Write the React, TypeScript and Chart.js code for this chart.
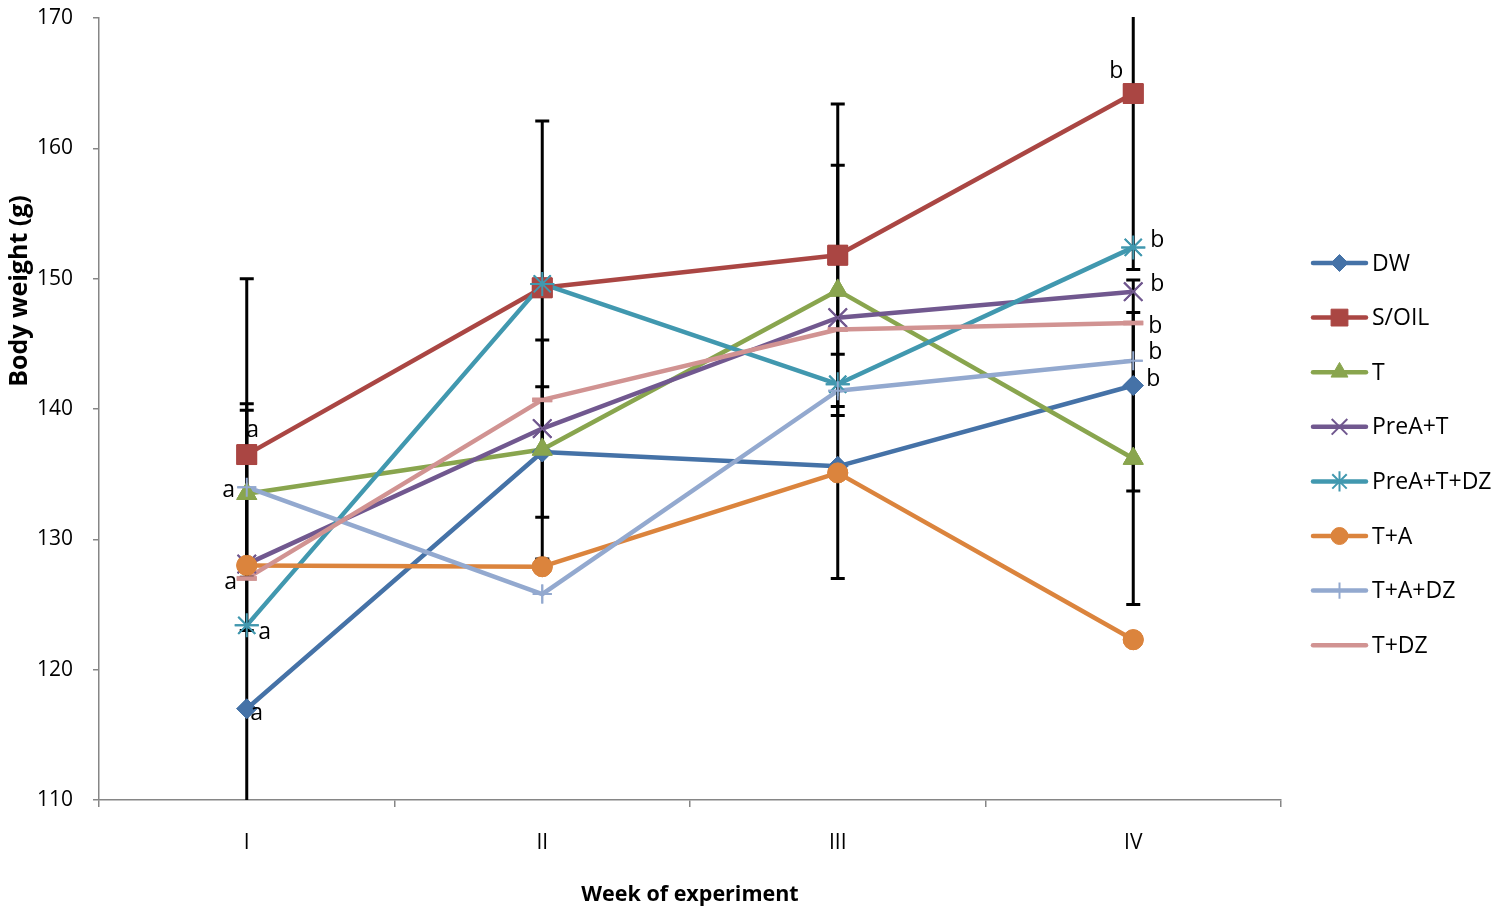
import { useEffect, useRef } from 'react';
import { Chart, registerables } from 'chart.js';
import { drawPoint } from 'chart.js/helpers';

Chart.register(...registerables);

// Weeks on the x axis
const weeks = ['I', 'II', 'III', 'IV'];

// Mean body weight (g) per group and week
const dw = [117.0, 136.7, 135.6, 141.8];
const sOil = [136.5, 149.3, 151.8, 164.2];
const tOnly = [133.5, 136.9, 149.1, 136.2];
const preAT = [128.1, 138.5, 147.0, 149.0];
const preATDZ = [123.4, 149.6, 141.9, 152.4];
const tA = [128.0, 127.9, 135.1, 122.3];
const tADZ = [134.0, 125.8, 141.4, 143.7];
const tDZ = [127.0, 140.7, 146.1, 146.6];

// Standard deviations shown as whiskers (only these groups carry them)
const dwSD = [23.4, 5.0, 8.6, 8.1];
const sOilSD = [13.5, 12.8, 11.6, 13.5];
const tOnlySD = [6.4, 8.4, 9.6, 11.2];

// Significance letters at week I and week IV, one per group ('' = none)
const lettersWeekI = ['a', 'a', 'a', '', 'a', '', '', 'a'];
const lettersWeekIV = ['b', 'b', '', 'b', 'b', '', 'b', 'b'];

// Y axis range
const yMin = 110;
const yMax = 170;
const yStep = 10;

const FONT = "'Open Sans', 'Noto Sans', sans-serif";

type SeriesStyle = {
  label: string;
  data: number[];
  sd: number[] | null;
  color: string;
  pointStyle: string;
  radius: number;
  pointBorderWidth: number;
};

const series: SeriesStyle[] = [
  { label: 'DW', data: dw, sd: dwSD, color: '#4572A7', pointStyle: 'rectRot', radius: 10, pointBorderWidth: 1 },
  { label: 'S/OIL', data: sOil, sd: sOilSD, color: '#AA4643', pointStyle: 'rect', radius: 14, pointBorderWidth: 1 },
  { label: 'T', data: tOnly, sd: tOnlySD, color: '#89A54E', pointStyle: 'triangle', radius: 11.5, pointBorderWidth: 1 },
  { label: 'PreA+T', data: preAT, sd: null, color: '#71588F', pointStyle: 'crossRot', radius: 13, pointBorderWidth: 2 },
  { label: 'PreA+T+DZ', data: preATDZ, sd: null, color: '#4198AF', pointStyle: 'star', radius: 12, pointBorderWidth: 2 },
  { label: 'T+A', data: tA, sd: null, color: '#DB843D', pointStyle: 'circle', radius: 10, pointBorderWidth: 1 },
  { label: 'T+A+DZ', data: tADZ, sd: null, color: '#93A9CF', pointStyle: 'cross', radius: 9.5, pointBorderWidth: 2 },
  { label: 'T+DZ', data: tDZ, sd: null, color: '#D19392', pointStyle: 'line', radius: 10, pointBorderWidth: 4.5 },
];

// Pixel offsets of the significance letters from their point
const letterOffsetsI: [number, number][] = [
  [10, 5], [6, -24], [-18, -3], [0, 0], [18, 7], [0, 0], [0, 0], [-16, 4],
];
const letterOffsetsIV: [number, number][] = [
  [20, -6], [-17, -22], [0, 0], [24, -7], [24, -7], [0, 0], [22, -8], [22, 3],
];

// Whiskers, drawn over the lines, then the markers are painted again on top
const errorBarPlugin = {
  id: 'errorBars',
  afterDatasetsDraw(chart: any) {
    const { ctx, chartArea, scales } = chart;
    const xs = scales.x;
    const ys = scales.y;
    ctx.save();
    ctx.beginPath();
    ctx.rect(chartArea.left, chartArea.top - 1, chartArea.right - chartArea.left, chartArea.bottom - chartArea.top + 1);
    ctx.clip();
    ctx.strokeStyle = '#000000';
    ctx.lineWidth = 3;
    ctx.lineCap = 'butt';
    series.forEach((s) => {
      if (!s.sd) return;
      s.data.forEach((v, i) => {
        const sd = s.sd![i];
        const x = xs.getPixelForValue(i);
        const yHi = ys.getPixelForValue(v + sd);
        const yLo = ys.getPixelForValue(v - sd);
        ctx.beginPath();
        ctx.moveTo(x, yHi);
        ctx.lineTo(x, yLo);
        ctx.moveTo(x - 7, yHi);
        ctx.lineTo(x + 7, yHi);
        ctx.moveTo(x - 7, yLo);
        ctx.lineTo(x + 7, yLo);
        ctx.stroke();
      });
    });
    ctx.restore();
    for (let d = 0; d < chart.data.datasets.length; d++) {
      const meta = chart.getDatasetMeta(d);
      meta.data.forEach((el: any) => el.draw(ctx, chartArea));
    }
  },
};

// Significance letters, the rotated y-axis title and the legend
const annotationPlugin = {
  id: 'annotations',
  afterDraw(chart: any) {
    const { ctx, scales } = chart;
    const xs = scales.x;
    const ys = scales.y;
    ctx.save();
    ctx.fillStyle = '#000000';
    ctx.font = `23px ${FONT}`;
    ctx.textAlign = 'center';
    ctx.textBaseline = 'middle';
    series.forEach((s, k) => {
      const li = lettersWeekI[k];
      if (li) {
        const [dx, dy] = letterOffsetsI[k];
        ctx.fillText(li, xs.getPixelForValue(0) + dx, ys.getPixelForValue(s.data[0]) + dy);
      }
      const l4 = lettersWeekIV[k];
      if (l4) {
        const [dx, dy] = letterOffsetsIV[k];
        ctx.fillText(l4, xs.getPixelForValue(3) + dx, ys.getPixelForValue(s.data[3]) + dy);
      }
    });

    // y-axis title
    ctx.save();
    ctx.translate(20, 291);
    ctx.rotate(-Math.PI / 2);
    ctx.font = `bold 25px ${FONT}`;
    ctx.fillText('Body weight (g)', 0, 0);
    ctx.restore();

    // legend
    const x0 = 1313;
    const x1 = 1366;
    series.forEach((s, k) => {
      const y = 263 + k * 54.6;
      ctx.strokeStyle = s.color;
      ctx.lineWidth = 4.5;
      ctx.lineCap = 'round';
      ctx.beginPath();
      ctx.moveTo(x0, y);
      ctx.lineTo(x1, y);
      ctx.stroke();
      ctx.fillStyle = s.color;
      ctx.strokeStyle = s.color;
      ctx.lineWidth = s.pointBorderWidth;
      ctx.lineCap = 'butt';
      if (s.pointStyle !== 'line') {
        drawPoint(ctx, { pointStyle: s.pointStyle as any, radius: s.radius * 0.85, rotation: 0, borderWidth: s.pointBorderWidth } as any, (x0 + x1) / 2, y);
      }
      ctx.fillStyle = '#000000';
      ctx.font = `23px ${FONT}`;
      ctx.textAlign = 'left';
      ctx.textBaseline = 'middle';
      ctx.fillText(s.label, 1372, y + 1);
    });
    ctx.restore();
  },
};

export default function App() {
  const canvasRef = useRef<HTMLCanvasElement | null>(null);

  useEffect(() => {
    const canvas = canvasRef.current;
    if (!canvas) return;
    const n = series.length;
    const chart = new Chart(canvas, {
      type: 'line',
      data: {
        labels: weeks,
        datasets: series.map((s, k) => ({
          label: s.label,
          data: s.data,
          order: n - k,
          borderColor: s.color,
          backgroundColor: s.color,
          borderWidth: 4.5,
          borderJoinStyle: 'round',
          borderCapStyle: 'round',
          tension: 0,
          fill: false,
          pointStyle: s.pointStyle as any,
          pointRadius: s.radius,
          pointHoverRadius: s.radius,
          pointBorderWidth: s.pointBorderWidth,
          pointBorderColor: s.color,
          pointBackgroundColor: s.color,
        })),
      },
      options: {
        animation: false,
        responsive: false,
        devicePixelRatio: 1,
        events: [],
        layout: { padding: { top: 18, right: 228, left: 0, bottom: 0 } },
        plugins: {
          legend: { display: false },
          tooltip: { enabled: false },
        },
        scales: {
          x: {
            type: 'category',
            offset: true,
            grid: {
              display: true,
              drawOnChartArea: false,
              offset: true,
              tickLength: 7,
              color: '#868686',
              lineWidth: 1.5,
            },
            border: { color: '#868686', width: 1.5 },
            ticks: { font: { family: FONT, size: 21 }, color: '#000000', padding: 23 },
            title: {
              display: true,
              text: 'Week of experiment',
              font: { family: FONT, size: 21.5, weight: 'bold' },
              color: '#000000',
              padding: { top: 0, bottom: 3 },
            },
            afterFit: (s: any) => {
              s.height = 111;
              s.paddingLeft = 0;
              s.paddingRight = 0;
            },
          },
          y: {
            min: yMin,
            max: yMax,
            ticks: { stepSize: yStep, font: { family: FONT, size: 21 }, color: '#000000', padding: 20 },
            grid: {
              display: true,
              drawOnChartArea: false,
              tickLength: 6,
              color: '#868686',
              lineWidth: 1.5,
            },
            border: { color: '#868686', width: 1.5 },
            afterFit: (s: any) => {
              s.width = 99;
              s.paddingTop = 0;
              s.paddingBottom = 0;
            },
          },
        },
      } as any,
      plugins: [errorBarPlugin, annotationPlugin],
    });
    return () => chart.destroy();
  }, []);

  return (
    <canvas
      ref={canvasRef}
      width={1509}
      height={911}
      style={{ position: 'fixed', left: 0, top: 0, width: 1509, height: 911, display: 'block', background: '#ffffff' }}
    />
  );
}
